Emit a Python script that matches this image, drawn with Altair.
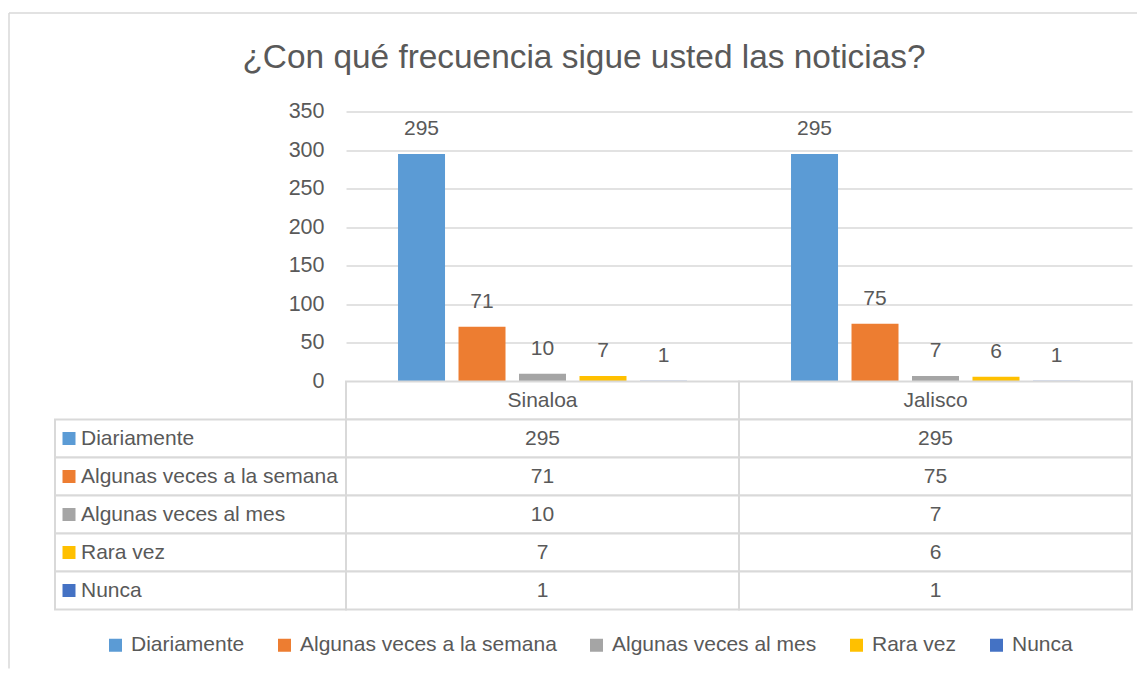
import altair as alt
import pandas as pd

title_text = "¿Con qué frecuencia sigue usted las noticias?"
series = ["Diariamente", "Algunas veces a la semana", "Algunas veces al mes", "Rara vez", "Nunca"]
states = ["Sinaloa", "Jalisco"]
sinaloa = [295, 71, 10, 7, 1]
jalisco = [295, 75, 7, 6, 1]
colors = ["#5B9BD5", "#ED7D31", "#A5A5A5", "#FFC000", "#4472C4"]
y_ticks = [0, 50, 100, 150, 200, 250, 300, 350]

FONT = "Liberation Sans"
TXT = "#595959"
GRID = "#D9D9D9"
FS = 21

HEADER = "_header"
row_domain = [HEADER] + series

records = []
for st, vals in zip(states, [sinaloa, jalisco]):
    for s, v in zip(series, vals):
        records.append({"state": st, "series": s, "value": v})
df = pd.DataFrame(records)

cell_records = []
for st, vals in zip(states, [sinaloa, jalisco]):
    cell_records.append({"state": st, "row": HEADER, "text": st})
    for s, v in zip(series, vals):
        cell_records.append({"state": st, "row": s, "text": str(v)})
cells = pd.DataFrame(cell_records)

label_df = pd.DataFrame({"row": series, "series": series})

color_scale = alt.Scale(domain=series, range=colors)
x_state = alt.X("state:N", sort=states, scale=alt.Scale(domain=states, paddingInner=0, paddingOuter=0), axis=None)
y_row = alt.Y("row:N", sort=row_domain, scale=alt.Scale(domain=row_domain, paddingInner=0, paddingOuter=0), axis=None)

# --- bars ---
base = alt.Chart(df).encode(
    x=x_state,
    xOffset=alt.XOffset("series:N", sort=series,
                        scale=alt.Scale(domain=series, paddingInner=0.223, paddingOuter=0.86)),
    y=alt.Y("value:Q", scale=alt.Scale(domain=[0, 350], nice=False),
            axis=alt.Axis(values=y_ticks, title=None, domain=False, ticks=False,
                          labelPadding=22, labelFontSize=21.5, labelFont=FONT, labelColor=TXT,
                          gridColor=GRID, gridWidth=1.5)),
)
bars = base.mark_bar().encode(
    color=alt.Color("series:N", sort=series, scale=color_scale,
                    legend=alt.Legend(title=None, orient="none", legendX=50, legendY=523,
                                      direction="horizontal", padding=0,
                                      symbolType="square", symbolSize=169, symbolStrokeWidth=0,
                                      labelFontSize=FS, labelFont=FONT, labelColor=TXT,
                                      labelLimit=0, labelOffset=5, columnPadding=29))
)
bar_labels = base.mark_text(baseline="bottom", dy=-15, fontSize=21, font=FONT, color=TXT).encode(
    text="value:Q"
)
bar_chart = alt.layer(bars, bar_labels).properties(width=786, height=270)

# --- empty top-left cell carrying the outer chart frame ---
frame_df = pd.DataFrame({"k": [0]})
frame_top = alt.Chart(frame_df).mark_rule(color=GRID, strokeWidth=1.5).encode(
    x=alt.value(-46), x2=alt.value(1082), y=alt.value(-98.5)
)
frame_left = alt.Chart(frame_df).mark_rule(color=GRID, strokeWidth=1.5).encode(
    x=alt.value(-46), y=alt.value(-98.5), y2=alt.value(557)
)
empty = alt.layer(frame_top, frame_left).properties(width=291, height=270)

# --- left table column (series labels) ---
lab_base = alt.Chart(label_df).encode(y=y_row)
lab_rect = lab_base.mark_rect(fill="white", stroke=GRID, strokeWidth=2).encode(
    x=alt.value(0), x2=alt.value("width")
)
lab_sq = lab_base.mark_point(shape="square", filled=True, size=169, opacity=1).encode(
    x=alt.value(14),
    color=alt.Color("series:N", sort=series, scale=color_scale, legend=None),
)
lab_txt = lab_base.mark_text(align="left", baseline="middle", fontSize=FS, font=FONT, color=TXT).encode(
    x=alt.value(26), text="series:N"
)
left_table = alt.layer(lab_rect, lab_sq, lab_txt).properties(width=291, height=228)

# --- value table ---
val_base = alt.Chart(cells).encode(x=x_state, y=y_row)
val_rect = val_base.mark_rect(fill="white", stroke=GRID, strokeWidth=2)
val_txt = val_base.mark_text(align="center", baseline="middle", fontSize=FS, font=FONT, color=TXT).encode(
    text="text:N"
)
value_table = alt.layer(val_rect, val_txt).properties(width=786, height=228)

chart = alt.concat(
    empty, bar_chart, left_table, value_table,
    columns=2, spacing=0, bounds="flush",
    title=alt.Title(title_text, fontSize=33.4, font=FONT, color=TXT, fontWeight="normal",
                    anchor="middle", offset=-63, dx=11),
).properties(
    padding={"left": 0, "top": 3.5, "right": 0, "bottom": 0}
).configure_view(stroke=None)

chart.save("out.html", embed_options={"renderer": "svg", "actions": False})
